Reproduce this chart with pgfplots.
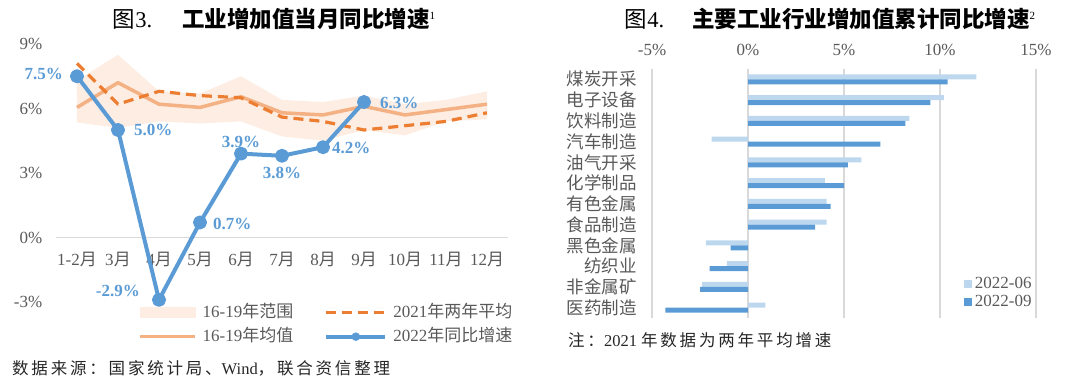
\documentclass[border=0pt]{standalone}
\usepackage{fontspec}
\setmainfont{Liberation Serif}
\newfontfamily\cjk{Noto Sans CJK SC}
\newfontfamily\cjkn[LetterSpace=17]{Noto Sans CJK SC}
\usepackage{pgfplots}
\pgfplotsset{compat=1.18}

\definecolor{tickgray}{HTML}{595959}
\definecolor{bandc}{HTML}{FDEDE3}
\definecolor{meanc}{HTML}{F4B183}
\definecolor{dashc}{HTML}{ED7D31}
\definecolor{bluec}{HTML}{5B9BD5}
\definecolor{lightb}{HTML}{BDD7EE}
\definecolor{gridc}{HTML}{D9D9D9}

\newcommand{\Y}{{\cjk 月}}

\begin{document}
\begin{tikzpicture}
\path (0pt,0pt) rectangle (1080pt,388pt);

% titles
\node[inner sep=0pt, font=\fontsize{22.5}{24}\selectfont] at (274pt,369pt)
  {{\cjk 图}3.\hspace{30pt}{\cjk\bfseries 工业增加值当月同比增速}\raisebox{8pt}{\fontsize{11}{11}\selectfont 1}};
\node[inner sep=0pt, font=\fontsize{22.5}{24}\selectfont] at (830pt,369pt)
  {{\cjk 图}4.\hspace{28pt}{\cjk\bfseries 主要工业行业增加值累计同比增速}\raisebox{8pt}{\fontsize{11}{11}\selectfont 2}};

% notes
\node[inner sep=0pt, anchor=west, font=\fontsize{16.5}{18}\selectfont, text=black!85] at (12pt,20pt)
  {{\cjkn 数据来源：国家统计局、}Wind{\cjkn ，联合资信整理}};
\node[inner sep=0pt, anchor=west, font=\fontsize{16.5}{18}\selectfont, text=black!85] at (568pt,48pt)
  {{\cjkn 注：}2021 {\cjkn 年数据为两年平均增速}};

% ---------------- left chart ----------------
\begin{axis}[
  at={(56.5pt,86pt)}, anchor=south west, scale only axis,
  width=451pt, height=258pt,
  xmin=-0.5, xmax=10.5, ymin=-3, ymax=9,
  axis line style={draw=none}, major tick length=0pt,
  xtick={0,1,2,3,4,5,6,7,8,9,10},
  xticklabels={1-2\Y,3\Y,4\Y,5\Y,6\Y,7\Y,8\Y,9\Y,10\Y,11\Y,12\Y},
  ytick={-3,0,3,6,9},
  yticklabels={-3\%,0\%,3\%,6\%,9\%},
  tick label style={font=\fontsize{17}{17}\selectfont, text=tickgray, inner sep=0pt},
  xticklabel style={anchor=center, yshift=42pt},
  yticklabel style={anchor=east, xshift=-14pt},
  clip=false,
  legend columns=2,
  legend style={at={(0.174,0.0)}, anchor=north west, draw=none, fill=none,
    font=\fontsize{17}{17}\selectfont, text=tickgray,
    nodes={inner sep=0pt, text height=13pt, text depth=4pt},
    column sep=6pt, row sep=7pt,
    /tikz/every even column/.append style={column sep=31pt}},
  legend cell align=left,
]
\draw[gridc, line width=1.3pt] (axis cs:-0.5,0) -- (axis cs:10.5,0);

% 16-19 range band
\addplot[fill=bandc, draw=none, forget plot] coordinates {
  (0,7.3) (1,8.5) (2,6.8) (3,6.7) (4,7.5) (5,6.4) (6,6.3) (7,6.6) (8,6.2) (9,6.4) (10,6.8)
  (10,5.5) (9,5.4) (8,4.75) (7,5.0) (6,4.5) (5,4.7) (4,5.4) (3,5.3) (2,5.4) (1,5.1) (0,5.35)
};
% 16-19 mean
\addplot[meanc, line width=3.5pt, line join=round, forget plot] coordinates {
  (0,6.05) (1,7.2) (2,6.2) (3,6.05) (4,6.55) (5,5.8) (6,5.7) (7,6.1) (8,5.7) (9,5.95) (10,6.2)
};
% 2021 two-year average
\addplot[dashc, line width=3.2pt, dash pattern=on 10pt off 6pt, line join=round, forget plot] coordinates {
  (0,8.1) (1,6.2) (2,6.8) (3,6.6) (4,6.5) (5,5.6) (6,5.4) (7,5.0) (8,5.2) (9,5.4) (10,5.8)
};
% 2022
\addplot[bluec, line width=4pt, line join=round, mark=*, mark size=5pt,
  mark options={solid, fill=bluec, draw=bluec}, forget plot] coordinates {
  (0,7.5) (1,5.0) (2,-2.9) (3,0.7) (4,3.9) (5,3.8) (6,4.2) (7,6.3)
};

\addlegendimage{legend image code/.code={\fill[bandc] (0pt,-5pt) rectangle (55pt,5pt);}}
\addlegendentry{16-19{\cjk 年范围}}
\addlegendimage{legend image code/.code={\draw[dashc, line width=3.2pt, dash pattern=on 10pt off 6pt] (0pt,0pt) -- (59pt,0pt);}}
\addlegendentry{2021{\cjk 年两年平均}}
\addlegendimage{legend image code/.code={\draw[meanc, line width=3.5pt] (0pt,0pt) -- (55pt,0pt);}}
\addlegendentry{16-19{\cjk 年均值}}
\addlegendimage{legend image code/.code={\draw[bluec, line width=4pt] (0pt,0pt) -- (59pt,0pt); \fill[bluec] (29.5pt,0pt) circle (4pt);}}
\addlegendentry{2022{\cjk 年同比增速}}

\tikzset{lbl/.style={inner sep=0pt, text=bluec, font=\bfseries\fontsize{17}{17}\selectfont}}
\node[lbl, anchor=east, xshift=-14pt, yshift=2pt] at (axis cs:0,7.5) {7.5\%};
\node[lbl, anchor=west, xshift=16pt] at (axis cs:1,5.0) {5.0\%};
\node[lbl, anchor=east, xshift=-19pt, yshift=9pt] at (axis cs:2,-2.9) {-2.9\%};
\node[lbl, anchor=west, xshift=13pt, yshift=-2pt] at (axis cs:3,0.7) {0.7\%};
\node[lbl, anchor=south, yshift=6pt] at (axis cs:4,3.9) {3.9\%};
\node[lbl, anchor=north, yshift=-11pt] at (axis cs:5,3.8) {3.8\%};
\node[lbl, anchor=west, xshift=9pt, yshift=-1pt] at (axis cs:6,4.2) {4.2\%};
\node[lbl, anchor=west, xshift=16pt, yshift=-1pt] at (axis cs:7,6.3) {6.3\%};
\end{axis}

% ---------------- right chart ----------------
\begin{axis}[
  at={(652pt,70pt)}, anchor=south west, scale only axis,
  width=384pt, height=249pt,
  xbar, bar width=5pt,
  xmin=-5, xmax=15, ymin=-0.5, ymax=11.5, y dir=reverse,
  axis line style={draw=none}, major tick length=0pt,
  xtick={-5,0,5,10,15}, xticklabels={-5\%,0\%,5\%,10\%,15\%},
  xticklabel pos=top,
  xmajorgrids, grid style={gridc, line width=1.3pt},
  ytick={0,1,2,3,4,5,6,7,8,9,10,11},
  yticklabels={煤炭开采,电子设备,饮料制造,汽车制造,油气开采,化学制品,有色金属,食品制造,黑色金属,纺织业,非金属矿,医药制造},
  tick label style={text=tickgray, inner sep=0pt},
  xticklabel style={font=\fontsize{17}{17}\selectfont, anchor=center, yshift=19pt},
  yticklabel style={font=\cjk\fontsize{17.5}{18}\selectfont, anchor=east, xshift=-15pt},
  clip=false,
  legend style={at={(0.804,0.175)}, anchor=north west, draw=none, fill=none,
    font=\fontsize{17}{17}\selectfont, text=tickgray,
    nodes={inner sep=0pt, text height=12pt, text depth=3pt},
    column sep=3pt, row sep=3pt},
  legend cell align=left,
  legend image code/.code={\fill[#1] (0pt,-4pt) rectangle (8pt,4pt);},
]
\addplot[fill=lightb, draw=none, bar shift=2.5pt] coordinates {
  (11.9,0) (10.2,1) (8.4,2) (-1.9,3) (5.9,4) (4.0,5) (4.1,6) (4.1,7) (-2.2,8) (-1.1,9) (-2.4,10) (0.9,11)
};
\addplot[fill=bluec, draw=none, bar shift=-2.5pt] coordinates {
  (10.4,0) (9.5,1) (8.2,2) (6.9,3) (5.2,4) (5.0,5) (4.3,6) (3.5,7) (-0.9,8) (-2.0,9) (-2.5,10) (-4.3,11)
};
\legend{2022-06,2022-09}
\end{axis}
\pgfresetboundingbox
\path[use as bounding box] (0pt,0pt) rectangle (1080pt,388pt);
\end{tikzpicture}
\end{document}
